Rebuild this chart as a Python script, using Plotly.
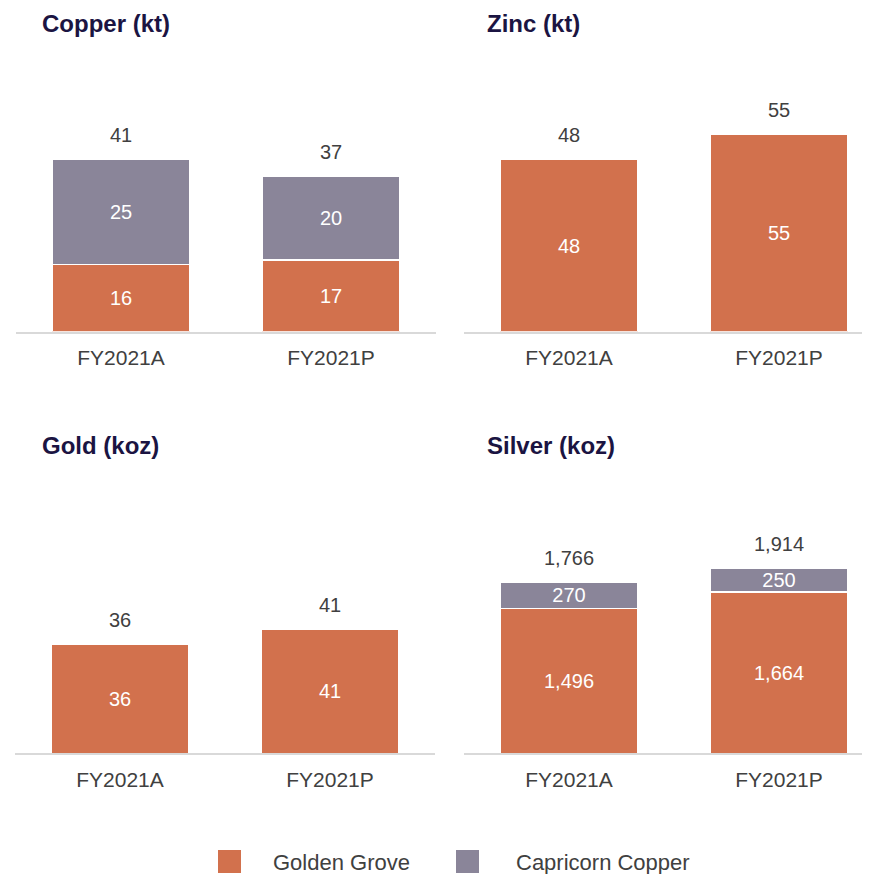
import plotly.graph_objects as go

categories = ["FY2021A", "FY2021P"]
copper_gg = [16, 17]
copper_cc = [25, 20]
zinc_gg = [48, 55]
gold_gg = [36, 41]
silver_gg = [1496, 1664]
silver_cc = [270, 250]
series_names = ["Golden Grove", "Capricorn Copper"]
titles = ["Copper (kt)", "Zinc (kt)", "Gold (koz)", "Silver (koz)"]

ORANGE = "#D2714D"
PURPLE = "#8A8599"
TITLE_C = "#1B1442"
TEXT_C = "#404040"
FONT = "Liberation Sans, Arial, sans-serif"

# page body has an 8px margin; the figure is offset by it
OFF = 8
W, H = 870 - OFF, 874 - OFF

def fx(px):
    return (px - OFF) / W

def fy(py):
    return 1 - (py - OFF) / H

panels = [
    dict(gg=copper_gg, cc=copper_cc, xd=(16, 436), xr=[-0.5, 1.5], yd=(60, 331.7), yr=[0, 64.6], tx=40, ty=23),
    dict(gg=zinc_gg, cc=None, xd=(464, 870), xr=[-0.5, -0.5 + 406 / 210], yd=(60, 331.7), yr=[0, 75.7], tx=485, ty=23),
    dict(gg=gold_gg, cc=None, xd=(15, 435), xr=[-0.5, 1.5], yd=(481.6, 753.3), yr=[0, 89.7], tx=40, ty=445),
    dict(gg=silver_gg, cc=silver_cc, xd=(464, 870), xr=[-0.5, -0.5 + 406 / 210], yd=(481.6, 753.3), yr=[0, 2807], tx=485, ty=445),
]

fig = go.Figure()
annotations = []
layout = {}

def fmt(v):
    return f"{v:,}"

for i, p in enumerate(panels):
    n = "" if i == 0 else str(i + 1)
    xa, ya = "x" + n, "y" + n
    fig.add_trace(go.Bar(
        x=categories, y=p["gg"], name=series_names[0], marker_color=ORANGE,
        marker_line=dict(color="white", width=1.5),
        text=[fmt(v) for v in p["gg"]], textposition="inside", insidetextanchor="middle",
        textfont=dict(color="white", size=20, family=FONT),
        xaxis=xa, yaxis=ya, width=0.657, showlegend=False, cliponaxis=False,
    ))
    totals = list(p["gg"])
    if p["cc"] is not None:
        fig.add_trace(go.Bar(
            x=categories, y=p["cc"], name=series_names[1], marker_color=PURPLE,
            marker_line=dict(color="white", width=1.5),
            text=[fmt(v) for v in p["cc"]], textposition="inside", insidetextanchor="middle",
            textfont=dict(color="white", size=20, family=FONT),
            xaxis=xa, yaxis=ya, width=0.657, showlegend=False, cliponaxis=False,
        ))
        totals = [a + b for a, b in zip(p["gg"], p["cc"])]
    for c, t in zip(categories, totals):
        annotations.append(dict(
            x=c, y=t, xref=xa, yref=ya, text=fmt(t), showarrow=False,
            yanchor="bottom", yshift=11, font=dict(size=20, color=TEXT_C, family=FONT),
        ))
    annotations.append(dict(
        x=fx(p["tx"]), y=fy(p["ty"]), xref="paper", yref="paper", xanchor="left", yanchor="middle",
        text="<b>" + titles[i] + "</b>", showarrow=False,
        font=dict(size=24, color=TITLE_C, family=FONT),
    ))
    layout["xaxis" + n] = dict(
        domain=[fx(p["xd"][0]), min(1, fx(p["xd"][1]))], range=p["xr"], anchor=ya,
        showline=True, linecolor="#D9D9D9", linewidth=2, showgrid=False, zeroline=False,
        ticks="", tickfont=dict(size=21, color=TEXT_C, family=FONT), ticklabelstandoff=6,
        fixedrange=True,
    )
    layout["yaxis" + n] = dict(
        domain=[fy(p["yd"][1]), fy(p["yd"][0])], range=p["yr"], anchor=xa,
        visible=False, showgrid=False, zeroline=False,
    )

# legend
shapes = []
leg = [(218, 271, ORANGE, series_names[0]), (456, 514, PURPLE, series_names[1])]
for sx, tx, col, name in leg:
    shapes.append(dict(type="rect", xref="paper", yref="paper",
                       x0=fx(sx), x1=fx(sx + 23), y0=fy(873), y1=fy(850),
                       fillcolor=col, line=dict(width=0)))
    annotations.append(dict(x=fx(tx), y=fy(862), xref="paper", yref="paper", xanchor="left",
                            yanchor="middle", text=name, showarrow=False,
                            font=dict(size=22, color=TEXT_C, family=FONT)))

fig.update_layout(
    width=W, height=H, margin=dict(l=0, r=0, t=0, b=0),
    paper_bgcolor="white", plot_bgcolor="white", barmode="stack",
    annotations=annotations, shapes=shapes, showlegend=False,
    uniformtext=dict(minsize=20, mode="show"),
    **layout,
)

fig.write_html("out.html")
